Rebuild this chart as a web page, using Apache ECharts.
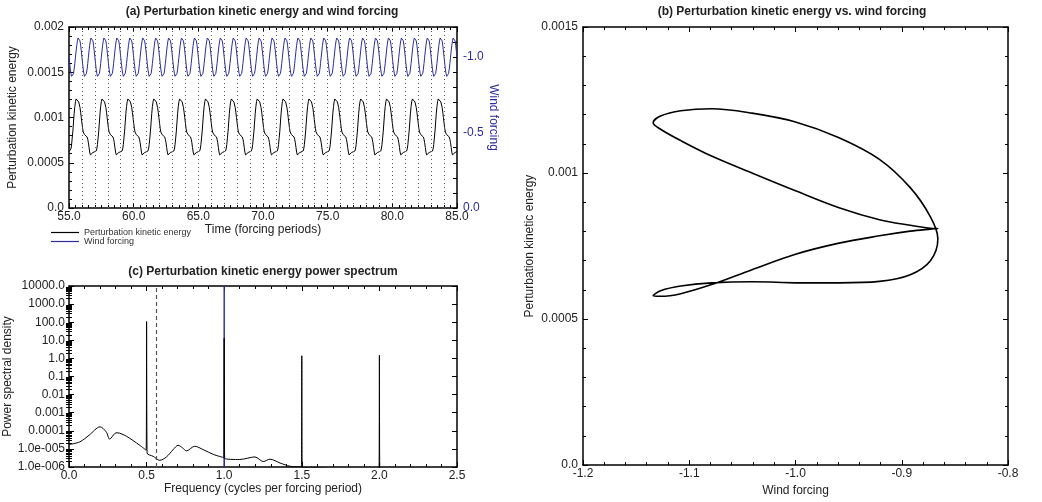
<!DOCTYPE html>
<html>
<head>
<meta charset="utf-8">
<script src="https://cdn.jsdelivr.net/npm/echarts@6/dist/echarts.min.js"></script>
<style>
html, body { margin: 0; padding: 0; background: #fff; }
#chart { width: 1042px; height: 502px; }
</style>
</head>
<body>
<div id="chart"></div>
<script>
// wind forcing over one forcing period, every 0.05 period, starting at an integer time
const windCycle = [-1.000, -0.959, -0.921, -0.892, -0.873, -0.866, -0.873, -0.892, -0.921, -0.959,
                   -1.000, -1.041, -1.079, -1.108, -1.127, -1.134, -1.127, -1.108, -1.079, -1.041];
// perturbation KE over two forcing periods, every 0.05 period, starting at t = 55, 57, ...
const keCycle = [0.000624, 0.000624, 0.000629, 0.000652, 0.000700, 0.000775, 0.000850, 0.000950, 0.001047, 0.001121,
                 0.001175, 0.001205, 0.001220, 0.001213, 0.001195, 0.001172, 0.001150, 0.001111, 0.001058, 0.001000,
                 0.000939, 0.000881, 0.000840, 0.000821, 0.000811, 0.000810, 0.000808, 0.000801, 0.000785, 0.000760,
                 0.000722, 0.000669, 0.000618, 0.000587, 0.000578, 0.000580, 0.000597, 0.000613, 0.000624, 0.000628];
const timeStart = 55;
const timeEnd = 85;
const timeStep = 0.05;

// power spectrum of perturbation KE
const psdFreq = [0.0, 0.07, 0.13, 0.2, 0.24, 0.262, 0.295, 0.31, 0.37, 0.456, 0.497, 0.5, 0.503, 0.542, 0.585,
                 0.628, 0.671, 0.703, 0.731, 0.757, 0.81, 0.865, 0.929, 0.997, 1.0, 1.003, 1.1, 1.198, 1.252,
                 1.295, 1.36, 1.424, 1.497, 1.5, 1.503, 1.55, 1.7, 1.85, 1.997, 2.0, 2.003, 2.2, 2.5];
const psdValue = [1.74e-5, 2.45e-5, 5.75e-5, 1.66e-4, 8.7e-5, 3.47e-5, 7.1e-5, 7.8e-5, 5.0e-5, 1.58e-5, 8.5e-6, 110, 6.0e-6, 3.9e-6, 2.34e-6,
                  3.6e-6, 9.1e-6, 1.58e-5, 1.15e-5, 7.8e-6, 1.4e-5, 9.1e-6, 5.0e-6, 3.3e-6, 13, 3.0e-6, 2.6e-6, 3.6e-6, 2.0e-6,
                  2.7e-6, 1.66e-6, 1.1e-6, 1.0e-6, 1.4, 9.5e-7, 9.5e-7, 8e-7, 7e-7, 6e-7, 1.5, 6e-7, 5e-7, 4e-7];
// wind forcing spectrum: single line at the forcing frequency
const windPsdFreq = [0.998, 1.0, 1.002];
const windPsdValue = [1e-8, 1e6, 1e-8];
const dashedFreq = 0.56;
const psdTickLabels = ['1.0e-006', '1.0e-005', '0.0001', '0.001', '0.01', '0.1', '1.0', '10.0', '100.0', '1000.0', '10000.0'];

const font = 'Liberation Sans, Arial, Helvetica, sans-serif';
const blue = '#2c2c9c';
const ink = '#222';

const keSeries = [];
const windSeries = [];
const nSteps = Math.round((timeEnd - timeStart) / timeStep);
for (let k = 0; k <= nSteps; k++) {
    const t = +(timeStart + k * timeStep).toFixed(2);
    keSeries.push([t, keCycle[k % keCycle.length]]);
    windSeries.push([t, windCycle[k % windCycle.length]]);
}
const phaseLoop = keCycle.map((ke, i) => [windCycle[i % windCycle.length], ke]);
phaseLoop.push(phaseLoop[0]);

const periodLines = [];
for (let n = timeStart + 1; n < timeEnd; n++) periodLines.push({ xAxis: n });

// panel (c) is drawn on a decade axis: position = log10(value)
const psdData = psdFreq.map((f, i) => [f, Math.log10(psdValue[i])]);
const windPsdData = windPsdFreq.map((f, i) => [f, Math.log10(windPsdValue[i])]);

// log minor ticks (2..9 in each decade), in decade units
const logMinor = [];
for (let n = -6; n < 4; n++) {
    for (let k = 2; k < 10; k++) logMinor.push(n + Math.log10(k));
}

const smallNum = v => v === 0 ? '0.0' : String(parseFloat(v.toFixed(4)));
const oneDec = v => (Math.round(v * 10) / 10).toFixed(1);

function boxAxis(extra) {
    return Object.assign({
        type: 'value',
        axisLine: { show: true, onZero: false, lineStyle: { color: '#000', width: 1.5 } },
        axisTick: { show: true, inside: true, length: 5, lineStyle: { color: '#000' } },
        minorTick: { show: true, length: 3, lineStyle: { color: '#000' } },
        axisLabel: { show: true, fontSize: 12, fontFamily: font, color: ink, margin: 5 },
        splitLine: { show: false },
        nameLocation: 'middle',
        nameTextStyle: { fontSize: 12, fontFamily: font, color: ink }
    }, extra);
}
function mirror(extra) {
    const ax = boxAxis(extra);
    ax.axisLabel = { show: false };
    return ax;
}
function tickOnly(grid, side) {
    return {
        type: 'value', gridIndex: grid, position: side, min: -6, max: 4,
        axisLine: { show: false }, axisLabel: { show: false }, splitLine: { show: false },
        axisTick: { show: true, inside: true, length: 3, customValues: logMinor, lineStyle: { color: '#000' } }
    };
}

const chart = echarts.init(document.getElementById('chart'));
chart.setOption({
    animation: false,
    backgroundColor: '#fff',
    grid: [
        { left: 69, top: 27, width: 388, height: 181 },
        { left: 69, top: 286, width: 388, height: 181 },
        { left: 583, top: 27, width: 425, height: 439 }
    ],
    legend: {
        data: ['Perturbation kinetic energy', 'Wind forcing'],
        orient: 'vertical',
        left: 51,
        top: 228,
        icon: 'rect',
        itemWidth: 28,
        itemHeight: 1.2,
        itemGap: 0,
        padding: 0,
        textStyle: { fontSize: 9, lineHeight: 9, fontFamily: font, color: '#333' }
    },
    graphic: [
        { type: 'text', x: 262, y: 12, style: { text: '(a) Perturbation kinetic energy and wind forcing', fontSize: 12, fontWeight: 'bold', fontFamily: font, fill: ink, align: 'center', verticalAlign: 'middle' } },
        { type: 'text', x: 792, y: 12, style: { text: '(b) Perturbation kinetic energy vs. wind forcing', fontSize: 12, fontWeight: 'bold', fontFamily: font, fill: ink, align: 'center', verticalAlign: 'middle' } },
        { type: 'text', x: 263, y: 272, style: { text: '(c) Perturbation kinetic energy power spectrum', fontSize: 12, fontWeight: 'bold', fontFamily: font, fill: ink, align: 'center', verticalAlign: 'middle' } }
    ],
    xAxis: [
        boxAxis({ gridIndex: 0, position: 'bottom', min: 55, max: 85, interval: 5, minorTick: { show: true, splitNumber: 10, length: 3, lineStyle: { color: '#000' } },
            axisLabel: { fontSize: 12, fontFamily: font, color: ink, margin: 3, formatter: oneDec },
            name: 'Time (forcing periods)', nameGap: 16 }),
        mirror({ gridIndex: 0, position: 'top', min: 55, max: 85, interval: 5, minorTick: { show: true, splitNumber: 10, length: 3, lineStyle: { color: '#000' } } }),
        boxAxis({ gridIndex: 1, position: 'bottom', min: 0, max: 2.5, interval: 0.5, minorTick: { show: true, splitNumber: 5, length: 3, lineStyle: { color: '#000' } },
            axisLabel: { fontSize: 12, fontFamily: font, color: ink, margin: 3, formatter: oneDec },
            name: 'Frequency (cycles per forcing period)', nameGap: 16 }),
        mirror({ gridIndex: 1, position: 'top', min: 0, max: 2.5, interval: 0.5, minorTick: { show: true, splitNumber: 5, length: 3, lineStyle: { color: '#000' } } }),
        boxAxis({ gridIndex: 2, position: 'bottom', min: -1.2, max: -0.8, interval: 0.1, minorTick: { show: true, splitNumber: 5, length: 3, lineStyle: { color: '#000' } },
            axisLabel: { fontSize: 12, fontFamily: font, color: ink, margin: 3, formatter: oneDec },
            name: 'Wind forcing', nameGap: 17 }),
        mirror({ gridIndex: 2, position: 'top', min: -1.2, max: -0.8, interval: 0.1, minorTick: { show: true, splitNumber: 5, length: 3, lineStyle: { color: '#000' } } })
    ],
    yAxis: [
        boxAxis({ gridIndex: 0, position: 'left', min: 0, max: 0.002, interval: 0.0005, minorTick: { show: true, splitNumber: 5, length: 3, lineStyle: { color: '#000' } },
            axisLabel: { fontSize: 12, fontFamily: font, color: ink, margin: 5, formatter: smallNum },
            name: 'Perturbation kinetic energy', nameGap: 50 }),
        boxAxis({ gridIndex: 0, position: 'right', min: -1.2, max: 0, interval: 0.1, inverse: true, minorTick: { show: false },
            axisTick: { show: true, inside: true, length: 4, lineStyle: { color: '#000' } },
            axisLabel: { fontSize: 12, fontFamily: font, color: blue, margin: 6,
                formatter: v => Math.abs(v * 2 - Math.round(v * 2)) < 1e-6 ? oneDec(v) : '' },
            name: 'Wind forcing', nameRotate: -90, nameGap: 30, nameTextStyle: { fontSize: 12, fontFamily: font, color: blue } }),
        boxAxis({ gridIndex: 1, position: 'left', min: -6, max: 4, interval: 1, minorTick: { show: false },
            axisLabel: { fontSize: 12, fontFamily: font, color: ink, margin: 4, formatter: v => psdTickLabels[Math.round(v) + 6] },
            name: 'Power spectral density', nameGap: 50 }),
        mirror({ gridIndex: 1, position: 'right', min: -6, max: 4, interval: 1, minorTick: { show: false } }),
        boxAxis({ gridIndex: 2, position: 'left', min: 0, max: 0.0015, interval: 0.0005, minorTick: { show: true, splitNumber: 5, length: 3, lineStyle: { color: '#000' } },
            axisLabel: { fontSize: 12, fontFamily: font, color: ink, margin: 5, formatter: smallNum },
            name: 'Perturbation kinetic energy', nameGap: 47 }),
        mirror({ gridIndex: 2, position: 'right', min: 0, max: 0.0015, interval: 0.0005, minorTick: { show: true, splitNumber: 5, length: 3, lineStyle: { color: '#000' } } }),
        tickOnly(1, 'left'),
        tickOnly(1, 'right')
    ],
    series: [
        {
            name: 'Perturbation kinetic energy', type: 'line', xAxisIndex: 0, yAxisIndex: 0,
            data: keSeries, symbol: 'none', color: '#000', lineStyle: { width: 1, color: '#000' },
            markLine: {
                silent: true, symbol: ['none', 'none'], label: { show: false },
                lineStyle: { type: [1, 3], color: '#555', width: 1 },
                data: periodLines
            }
        },
        {
            name: 'Wind forcing', type: 'line', xAxisIndex: 0, yAxisIndex: 1,
            data: windSeries, symbol: 'none', color: blue, lineStyle: { width: 1, color: blue }
        },
        {
            name: 'Wind spectrum', type: 'line', xAxisIndex: 2, yAxisIndex: 2,
            data: windPsdData, symbol: 'none', color: blue, lineStyle: { width: 1, color: blue }, clip: true
        },
        {
            name: 'KE spectrum', type: 'line', xAxisIndex: 2, yAxisIndex: 2,
            data: psdData, symbol: 'none', smooth: 0.3, color: '#000', lineStyle: { width: 1, color: '#000' }, clip: true,
            markLine: {
                silent: true, symbol: ['none', 'none'], label: { show: false },
                lineStyle: { type: [4, 3], color: '#555', width: 1.2 },
                data: [{ xAxis: dashedFreq }]
            }
        },
        {
            name: 'Phase loop', type: 'line', xAxisIndex: 4, yAxisIndex: 4,
            data: phaseLoop, symbol: 'none', smooth: 0.35, color: '#000', lineStyle: { width: 1.6, color: '#000' }
        }
    ]
});
</script>
</body>
</html>
